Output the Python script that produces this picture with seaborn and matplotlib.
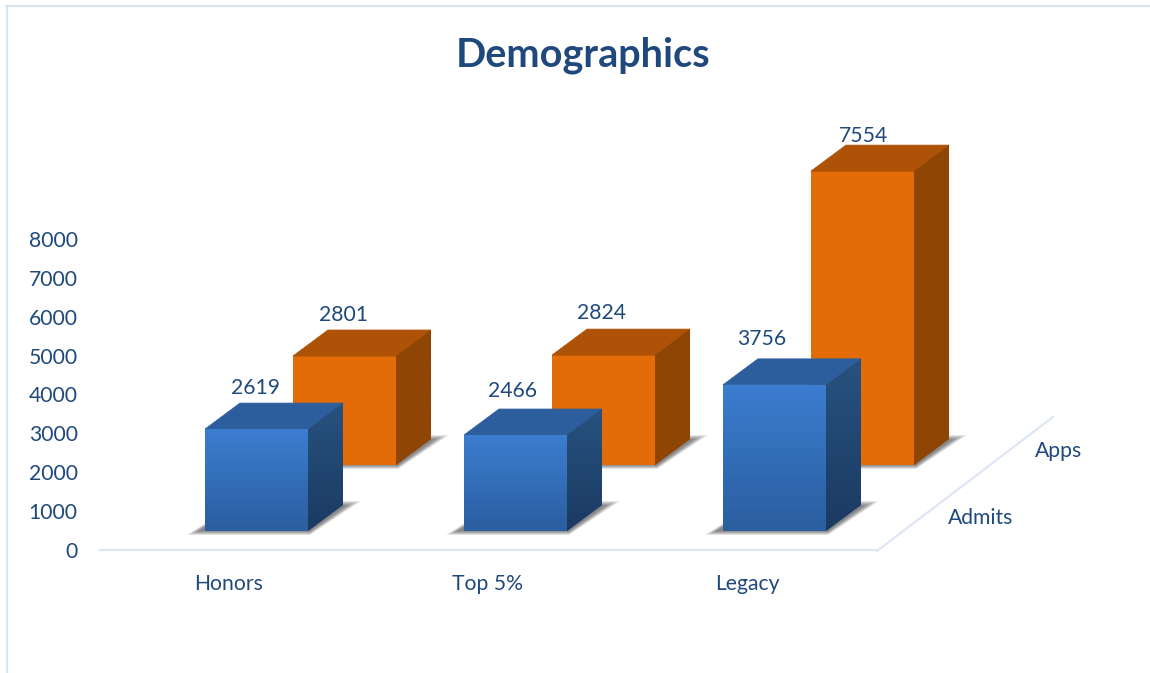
import numpy as np
import pandas as pd
import matplotlib
matplotlib.use("Agg")
import matplotlib.pyplot as plt
from matplotlib.colors import LinearSegmentedColormap
from matplotlib.lines import Line2D
from matplotlib.patches import Polygon
import seaborn as sns

categories = ["Honors", "Top 5%", "Legacy"]
admits = [2619, 2466, 3756]
apps = [2801, 2824, 7554]
y_ticks = [0, 1000, 2000, 3000, 4000, 5000, 6000, 7000, 8000]
series_names = ["Admits", "Apps"]

W, H = 1150, 673
PX_X = 259.0          # pixels per category
PX_Y = 0.0389         # pixels per value unit
TEXT = "#1F497D"
LINE = "#DCE7F3"
FONT = "Lato"
FS = 15.2

sns.set_theme(style="white", rc={"font.family": FONT, "axes.edgecolor": LINE})
plt.rcParams["font.family"] = [FONT, "DejaVu Sans"]

fig = plt.figure(figsize=(W / 100, H / 100), dpi=100, facecolor="white")
ax = fig.add_axes([100 / W, 1 - 550 / H, (W - 100) / W, 550 / H])
xlim = ((100 - 256.5) / PX_X, (W - 256.5) / PX_X)
ylim = (0, 550 / PX_Y)

dx = 35 / PX_X
dy = 26 / PX_Y
bar_w = 103 / PX_X


def gradient_face(patch, extent, top, bottom, z):
    cmap = LinearSegmentedColormap.from_list("g", [bottom, top])
    im = ax.imshow(np.linspace(0, 1, 128).reshape(-1, 1), extent=extent, origin="lower",
                   cmap=cmap, aspect="auto", interpolation="bilinear", zorder=z)
    im.set_clip_path(patch)


def shadow(x0, x1, base, z):
    # soft floor shadow, layered polygons
    for i in range(9):
        g = i * 1.4
        pts = [(x0 - (18 - g) / PX_X, base - (4 - g * 0.35) / PX_Y),
               (x1 + 2 / PX_X, base - (4 - g * 0.35) / PX_Y),
               (x1 + dx + (18 - g * 1.3) / PX_X, base + (30 - g * 0.4) / PX_Y),
               (x0 + dx, base + (30 - g * 0.4) / PX_Y)]
        ax.add_patch(Polygon(pts, closed=True, fc="#303030", ec="none", alpha=0.085, zorder=z))


def draw_series(values, x_off, base_px, color, top_c, side_top, side_bottom,
                front_grad, z):
    base = base_px / PX_Y
    df = pd.DataFrame({"x": np.arange(len(values)) + x_off, "v": values})
    n0 = len(ax.patches)
    sns.barplot(data=df, x="x", y="v", native_scale=True, width=bar_w, color=color,
                saturation=1, bottom=base, ax=ax, zorder=z, errorbar=None)
    bars = list(ax.patches[n0:])
    for b in bars:
        x0, x1 = b.get_x(), b.get_x() + b.get_width()
        y0, y1 = b.get_y(), b.get_y() + b.get_height()
        b.set_edgecolor("none")
        shadow(x0, x1, y0, z - 0.5)
        if front_grad:
            gradient_face(b, [x0, x1, y0, y1], front_grad[0], front_grad[1], z + 0.1)
        top = Polygon([(x0, y1), (x1, y1), (x1 + dx, y1 + dy), (x0 + dx, y1 + dy)],
                      closed=True, fc=top_c, ec=top_c, lw=0.6, zorder=z)
        ax.add_patch(top)
        side = Polygon([(x1, y0), (x1 + dx, y0 + dy), (x1 + dx, y1 + dy), (x1, y1)],
                       closed=True, fc=side_top, ec="none", zorder=z)
        ax.add_patch(side)
        gradient_face(side, [x1, x1 + dx, y0, y1 + dy], side_top, side_bottom, z + 0.1)
    return bars


apps_bars = draw_series(apps, 88 / PX_X, 85, "#E36C09", "#AD5207", "#8F4504", "#8F4504", None, 3)
admit_bars = draw_series(admits, 0.0, 19, "#3672BF", "#2C5E9E", "#27527F", "#1B3A62",
                         ("#3C7DD0", "#2A5E9F"), 6)

# value labels, placed above the bar tops
label_off = {"apps": [(-1, 41), (-2, 42), (1, 35)], "admits": [(-1, 41), (-3, 44), (-13, 46)]}
for bars, vals, offs, z in [(apps_bars, apps, label_off["apps"], 9),
                            (admit_bars, admits, label_off["admits"], 9)]:
    for b, v, (ox, oy) in zip(bars, vals, offs):
        ax.annotate(str(v), (b.get_x() + b.get_width() / 2, b.get_y() + b.get_height()),
                    xytext=(ox * 0.72, oy * 0.72), textcoords="offset points",
                    ha="center", va="center", color=TEXT, fontsize=FS, zorder=z)

# axes
ax.set_yticks(y_ticks)
ax.set_yticklabels([str(t) for t in y_ticks])
ax.set_xticks(np.arange(3) - 27.5 / PX_X)
ax.set_xticklabels(categories)
ax.set_xlabel("")
ax.set_ylabel("")
ax.tick_params(axis="y", length=0, pad=16, labelsize=FS, labelcolor=TEXT)
ax.tick_params(axis="x", length=0, pad=17.5, labelsize=FS, labelcolor=TEXT)
for s in ["top", "right", "left"]:
    ax.spines[s].set_visible(False)
ax.spines["bottom"].set_color(LINE)
ax.spines["bottom"].set_linewidth(1.6)
ax.spines["bottom"].set_bounds((100 - 256.5) / PX_X, (877 - 256.5) / PX_X)
ax.patch.set_alpha(0)
ax.grid(False)
ax.set_xlim(xlim)
ax.set_ylim(ylim)


def fx(px):
    return px / W


def fy(py):
    return 1 - py / H


# floor edge (depth axis) and chart border
fig.add_artist(Line2D([fx(877), fx(1053)], [fy(551), fy(417)], color=LINE, lw=1.6))
fig.add_artist(Line2D([fx(7), fx(7)], [fy(6), 0], color="#D6E4F4", lw=1.5))
fig.add_artist(Line2D([fx(6), 1], [fy(6), fy(6)], color="#D6E4F4", lw=1.5))

fig.text(fx(981), fy(518), series_names[0], color=TEXT, fontsize=FS, ha="center", va="center")
fig.text(fx(1059), fy(451), series_names[1], color=TEXT, fontsize=FS, ha="center", va="center")
fig.text(fx(583.5), fy(55.5), "Demographics", color=TEXT, fontsize=28.5, fontweight="bold",
         ha="center", va="center")

fig.savefig("out.png", dpi=100, facecolor="white")
